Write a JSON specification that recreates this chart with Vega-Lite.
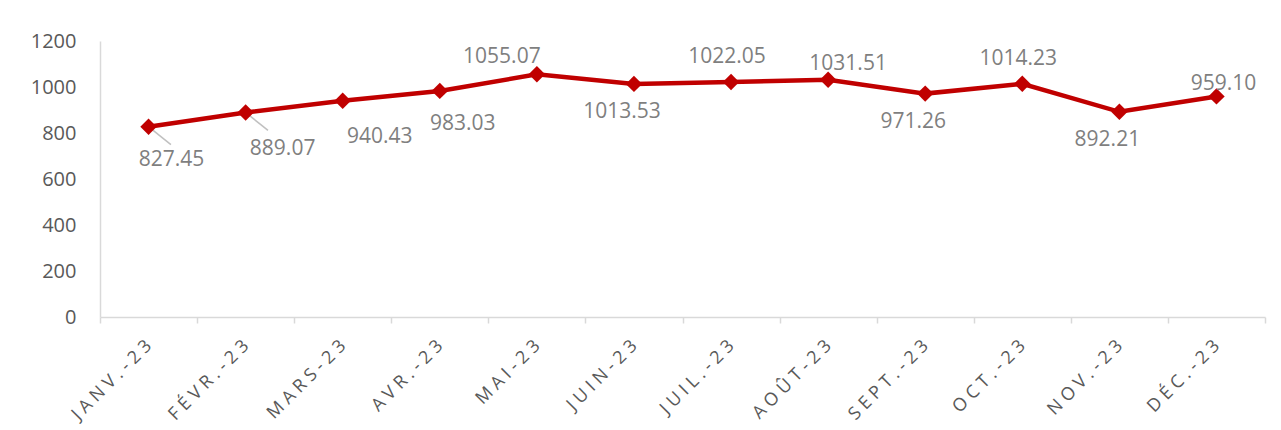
{
  "$schema": "https://vega.github.io/schema/vega-lite/v6.json",
  "width": 1165,
  "height": 276,
  "autosize": {"type": "none"},
  "padding": {"left": 100, "top": 41, "right": 16, "bottom": 113},
  "background": "white",
  "config": {
    "view": {"stroke": null},
    "font": "Open Sans"
  },
  "data": {
    "values": [
      {"mois": "JANV.-23", "valeur": 827.45},
      {"mois": "FÉVR.-23", "valeur": 889.07},
      {"mois": "MARS-23", "valeur": 940.43},
      {"mois": "AVR.-23", "valeur": 983.03},
      {"mois": "MAI-23", "valeur": 1055.07},
      {"mois": "JUIN-23", "valeur": 1013.53},
      {"mois": "JUIL.-23", "valeur": 1022.05},
      {"mois": "AOÛT-23", "valeur": 1031.51},
      {"mois": "SEPT.-23", "valeur": 971.26},
      {"mois": "OCT.-23", "valeur": 1014.23},
      {"mois": "NOV.-23", "valeur": 892.21},
      {"mois": "DÉC.-23", "valeur": 959.10}
    ]
  },
  "encoding": {
    "x": {
      "field": "mois",
      "type": "ordinal",
      "sort": null,
      "bandPosition": 0.5,
      "scale": {"type": "band", "paddingInner": 0, "paddingOuter": 0},
      "axis": {
        "title": null,
        "tickBand": "extent",
        "domainColor": "#d9d9d9",
        "domainWidth": 1.5,
        "tickColor": "#d9d9d9",
        "tickWidth": 1.5,
        "tickSize": 6,
        "labelAngle": -45,
        "labelAlign": "right",
        "labelBaseline": "middle",
        "labelPadding": 20,
        "labelFont": "Open Sans",
        "labelFontSize": 18,
        "labelColor": "#595959",
        "labelExpr": "join(split(datum.label, ''), ' ')"
      }
    },
    "y": {
      "field": "valeur",
      "type": "quantitative",
      "scale": {"domain": [0, 1200], "nice": false},
      "axis": {
        "title": null,
        "values": [0, 200, 400, 600, 800, 1000, 1200],
        "format": "d",
        "grid": false,
        "ticks": false,
        "domainColor": "#d9d9d9",
        "domainWidth": 1.5,
        "labelPadding": 24,
        "labelFont": "Open Sans",
        "labelFontSize": 20,
        "labelColor": "#595959"
      }
    }
  },
  "layer": [
    {
      "mark": {"type": "point", "shape": "M0.15,0.12L1,0.8", "size": 2000, "filled": false, "stroke": "#a6a6a6", "strokeWidth": 1.5},
      "transform": [{"filter": {"field": "mois", "oneOf": ["JANV.-23", "FÉVR.-23"]}}]
    },
    {
      "mark": {"type": "line", "color": "#C00000", "strokeWidth": 4.5}
    },
    {
      "mark": {"type": "point", "shape": "diamond", "size": 270, "filled": true, "color": "#C00000", "opacity": 1}
    },
    {
      "transform": [{"filter": {"field": "mois", "oneOf": ["JANV.-23", "AVR.-23"]}}],
      "mark": {"type": "text", "dx": 23, "dy": 33, "fontSize": 21, "color": "#7f7f7f", "font": "Open Sans"},
      "encoding": {"text": {"field": "valeur", "format": ".2f"}}
    },
    {
      "transform": [{"filter": {"field": "mois", "oneOf": ["FÉVR.-23", "MARS-23"]}}],
      "mark": {"type": "text", "dx": 37, "dy": 36, "fontSize": 21, "color": "#7f7f7f", "font": "Open Sans"},
      "encoding": {"text": {"field": "valeur", "format": ".2f"}}
    },
    {
      "transform": [{"filter": {"field": "mois", "oneOf": ["JUIN-23", "SEPT.-23", "NOV.-23"]}}],
      "mark": {"type": "text", "dx": -12, "dy": 28, "fontSize": 21, "color": "#7f7f7f", "font": "Open Sans"},
      "encoding": {"text": {"field": "valeur", "format": ".2f"}}
    },
    {
      "transform": [{"filter": {"field": "mois", "oneOf": ["JUIL.-23", "OCT.-23"]}}],
      "mark": {"type": "text", "dx": -4, "dy": -25, "fontSize": 21, "color": "#7f7f7f", "font": "Open Sans"},
      "encoding": {"text": {"field": "valeur", "format": ".2f"}}
    },
    {
      "transform": [{"filter": {"field": "mois", "equal": "AOÛT-23"}}],
      "mark": {"type": "text", "dx": 20, "dy": -16, "fontSize": 21, "color": "#7f7f7f", "font": "Open Sans"},
      "encoding": {"text": {"field": "valeur", "format": ".2f"}}
    },
    {
      "transform": [{"filter": {"field": "mois", "equal": "DÉC.-23"}}],
      "mark": {"type": "text", "dx": 7, "dy": -12, "fontSize": 21, "color": "#7f7f7f", "font": "Open Sans"},
      "encoding": {"text": {"field": "valeur", "format": ".2f"}}
    },
    {
      "transform": [{"filter": {"field": "mois", "equal": "MAI-23"}}],
      "mark": {"type": "text", "dx": -35, "dy": -17, "fontSize": 21, "color": "#7f7f7f", "font": "Open Sans"},
      "encoding": {"text": {"field": "valeur", "format": ".2f"}}
    }
  ]
}
